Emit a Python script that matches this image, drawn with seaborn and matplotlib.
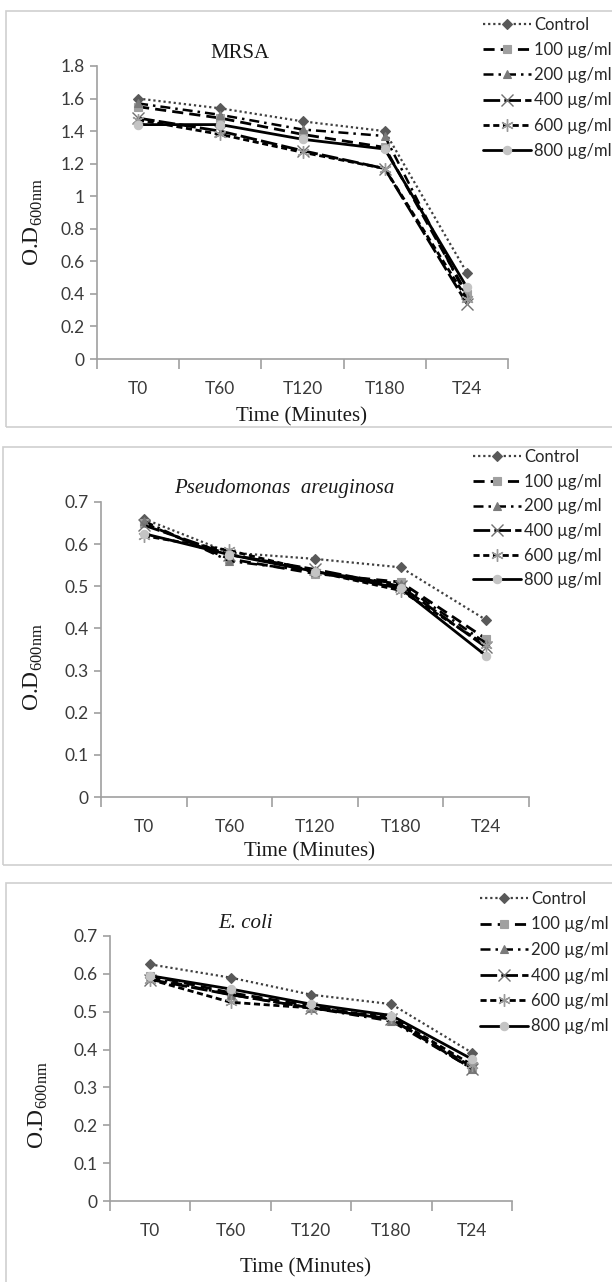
import numpy as np
import pandas as pd
import seaborn as sns
import matplotlib.pyplot as plt
from matplotlib import font_manager
from matplotlib.patches import Rectangle
from matplotlib.lines import Line2D
from matplotlib.ticker import FixedLocator, FuncFormatter

# ---- data ----
time_points = ["T0", "T60", "T120", "T180", "T24"]
treatments = ["Control", "100 \u00b5g/ml", "200 \u00b5g/ml", "400 \u00b5g/ml", "600 \u00b5g/ml", "800 \u00b5g/ml"]

mrsa_control = [1.60, 1.54, 1.46, 1.40, 0.53]
mrsa_100 = [1.55, 1.48, 1.38, 1.30, 0.40]
mrsa_200 = [1.57, 1.50, 1.41, 1.37, 0.38]
mrsa_400 = [1.48, 1.40, 1.28, 1.17, 0.34]
mrsa_600 = [1.47, 1.38, 1.27, 1.17, 0.37]
mrsa_800 = [1.44, 1.44, 1.35, 1.29, 0.44]

pseudo_control = [0.660, 0.580, 0.565, 0.545, 0.420]
pseudo_100 = [0.650, 0.565, 0.530, 0.510, 0.375]
pseudo_200 = [0.655, 0.560, 0.535, 0.505, 0.365]
pseudo_400 = [0.645, 0.575, 0.540, 0.500, 0.355]
pseudo_600 = [0.620, 0.585, 0.535, 0.490, 0.360]
pseudo_800 = [0.625, 0.575, 0.535, 0.495, 0.335]

ecoli_control = [0.625, 0.590, 0.545, 0.520, 0.392]
ecoli_100 = [0.595, 0.550, 0.515, 0.480, 0.355]
ecoli_200 = [0.590, 0.545, 0.510, 0.475, 0.350]
ecoli_400 = [0.585, 0.545, 0.510, 0.480, 0.350]
ecoli_600 = [0.585, 0.525, 0.510, 0.485, 0.360]
ecoli_800 = [0.595, 0.560, 0.520, 0.490, 0.375]

mrsa_yticks = [0, 0.2, 0.4, 0.6, 0.8, 1.0, 1.2, 1.4, 1.6, 1.8]
small_yticks = [0, 0.1, 0.2, 0.3, 0.4, 0.5, 0.6, 0.7]

# ---- styles ----
series_style = {
    "Control": dict(linestyle=(0, (1, 1.3)), lw=1.6, color="#404040", marker="D", ms=5.5, mfc="#595959", mec="#595959", mew=0.8),
    "100 \u00b5g/ml": dict(linestyle=(0, (4, 2.2)), lw=2.0, color="black", marker="s", ms=5.5, mfc="#a0a0a0", mec="#a0a0a0", mew=0.8),
    "200 \u00b5g/ml": dict(linestyle=(0, (4, 2, 1, 2)), lw=1.8, color="black", marker="^", ms=6, mfc="#7a7a7a", mec="#7a7a7a", mew=0.8),
    "400 \u00b5g/ml": dict(linestyle=(0, (6, 1.5)), lw=2.0, color="black", marker="x", ms=8, mfc="#707070", mec="#707070", mew=1.0),
    "600 \u00b5g/ml": dict(linestyle=(0, (2.2, 1.3)), lw=2.0, color="black", marker=(6, 2, 0), ms=9, mfc="#9a9a9a", mec="#9a9a9a", mew=1.0),
    "800 \u00b5g/ml": dict(linestyle="-", lw=2.0, color="black", marker="o", ms=6, mfc="#c4c4c4", mec="#c4c4c4", mew=0.8),
}

sns.set_style("white")
installed = {f.name for f in font_manager.fontManager.ttflist}
tick_font = [f for f in ["Liberation Sans Narrow", "Lato", "DejaVu Sans"] if f in installed]
serif_font = [f for f in ["Liberation Serif", "DejaVu Serif"] if f in installed]
plt.rcParams["font.family"] = tick_font
plt.rcParams["mathtext.fontset"] = "custom"
plt.rcParams["mathtext.rm"] = serif_font[0]

W, H = 612, 1282
fig = plt.figure(figsize=(W / 100, H / 100), dpi=100)


def fx(x):
    return x / W


def fy(y):
    return 1 - y / H


def make_df(values):
    rows = []
    for name, vals in zip(treatments, values):
        for t, v in zip(time_points, vals):
            rows.append({"time": time_points.index(t), "treatment": name, "od": v})
    return pd.DataFrame(rows)


def draw_panel(box, axbox, values, ymax, yticks, title, title_xy, italic, legend_xy, legend_gap,
               xlabel_xy, ylabel_xy):
    # panel frame
    fig.patches.append(Rectangle((fx(box[0]), fy(box[3])), fx(box[2] - box[0]), (box[3] - box[1]) / H,
                                 transform=fig.transFigure, fill=False, edgecolor="#cfcfcf", lw=1.2))
    left, top, right, bottom = axbox
    ax = fig.add_axes([fx(left), fy(bottom), fx(right - left), (bottom - top) / H])
    df = make_df(values)
    for name in treatments:
        st = series_style[name]
        sub = df[df["treatment"] == name]
        sns.lineplot(data=sub, x="time", y="od", ax=ax, sort=False, legend=False,
                     color=st["color"], linestyle=st["linestyle"], lw=st["lw"],
                     marker=st["marker"], ms=st["ms"], mfc=st["mfc"], mec=st["mec"], mew=st["mew"])
    ax.set_xlim(-0.5, len(time_points) - 0.5)
    ax.set_ylim(0, ymax)
    for s in ["top", "right"]:
        ax.spines[s].set_visible(False)
    for s in ["left", "bottom"]:
        ax.spines[s].set_color("#a0a0a0")
        ax.spines[s].set_linewidth(1.2)
    ax.set_yticks(yticks)
    ax.yaxis.set_major_formatter(FuncFormatter(lambda v, p: "{:g}".format(round(v, 2))))
    ax.xaxis.set_major_locator(FixedLocator(np.arange(-0.5, len(time_points), 1.0)))
    ax.xaxis.set_minor_locator(FixedLocator(np.arange(len(time_points))))
    ax.xaxis.set_major_formatter(FuncFormatter(lambda v, p: ""))
    ax.xaxis.set_minor_formatter(FuncFormatter(lambda v, p: time_points[int(round(v))]))
    ax.tick_params(axis="x", which="major", direction="out", length=7, width=1.2, color="#a0a0a0", bottom=True)
    ax.tick_params(axis="x", which="minor", length=0, pad=16, labelsize=12.5, labelcolor="#3a3a3a")
    ax.tick_params(axis="y", direction="out", length=5, width=1.2, color="#a0a0a0", left=True,
                   labelsize=12.5, labelcolor="#3a3a3a", pad=4)
    ax.set_xlabel("")
    ax.set_ylabel("")
    ax.patch.set_alpha(0)

    fig.text(fx(title_xy[0]), fy(title_xy[1]), title, ha="center", va="center", fontsize=15,
             family=serif_font, style="italic" if italic else "normal", color="#1a1a1a")
    fig.text(fx(xlabel_xy[0]), fy(xlabel_xy[1]), "Time (Minutes)", ha="center", va="center",
             fontsize=15, family=serif_font, color="#1a1a1a")
    fig.text(fx(ylabel_xy[0]), fy(ylabel_xy[1]), r"O.D$_{\mathregular{600nm}}$", ha="center",
             va="center", rotation=90, fontsize=17, family=serif_font, color="#1a1a1a")

    handles = []
    for name in treatments:
        st = series_style[name]
        handles.append(Line2D([], [], color=st["color"], linestyle=st["linestyle"], lw=st["lw"],
                              marker=st["marker"], ms=st["ms"], mfc=st["mfc"], mec=st["mec"], mew=st["mew"]))
    fig.legend(handles, treatments, loc="upper left", bbox_to_anchor=(fx(legend_xy[0]), fy(legend_xy[1])),
               bbox_transform=fig.transFigure, frameon=False, fontsize=12, handlelength=2.9,
               handletextpad=0.15, labelspacing=legend_gap, borderpad=0, borderaxespad=0, numpoints=1)
    return ax


draw_panel(box=(6, 11, 640, 427), axbox=(97, 66, 508, 359),
           values=[mrsa_control, mrsa_100, mrsa_200, mrsa_400, mrsa_600, mrsa_800],
           ymax=1.8, yticks=mrsa_yticks, title="MRSA", title_xy=(240, 53), italic=False,
           legend_xy=(483, 17), legend_gap=0.55, xlabel_xy=(302, 417), ylabel_xy=(33, 222))

draw_panel(box=(3, 447, 640, 865), axbox=(101, 502, 529, 797),
           values=[pseudo_control, pseudo_100, pseudo_200, pseudo_400, pseudo_600, pseudo_800],
           ymax=0.7, yticks=small_yticks, title="Pseudomonas  areuginosa", title_xy=(284, 488), italic=True,
           legend_xy=(473, 449), legend_gap=0.52, xlabel_xy=(310, 852), ylabel_xy=(33, 667))

draw_panel(box=(6, 883, 640, 1300), axbox=(110, 936, 512, 1201),
           values=[ecoli_control, ecoli_100, ecoli_200, ecoli_400, ecoli_600, ecoli_800],
           ymax=0.7, yticks=small_yticks, title="E. coli", title_xy=(246, 923), italic=True,
           legend_xy=(480, 891), legend_gap=0.57, xlabel_xy=(306, 1268), ylabel_xy=(38, 1105))

fig.savefig("out.png", dpi=100, facecolor="white")
